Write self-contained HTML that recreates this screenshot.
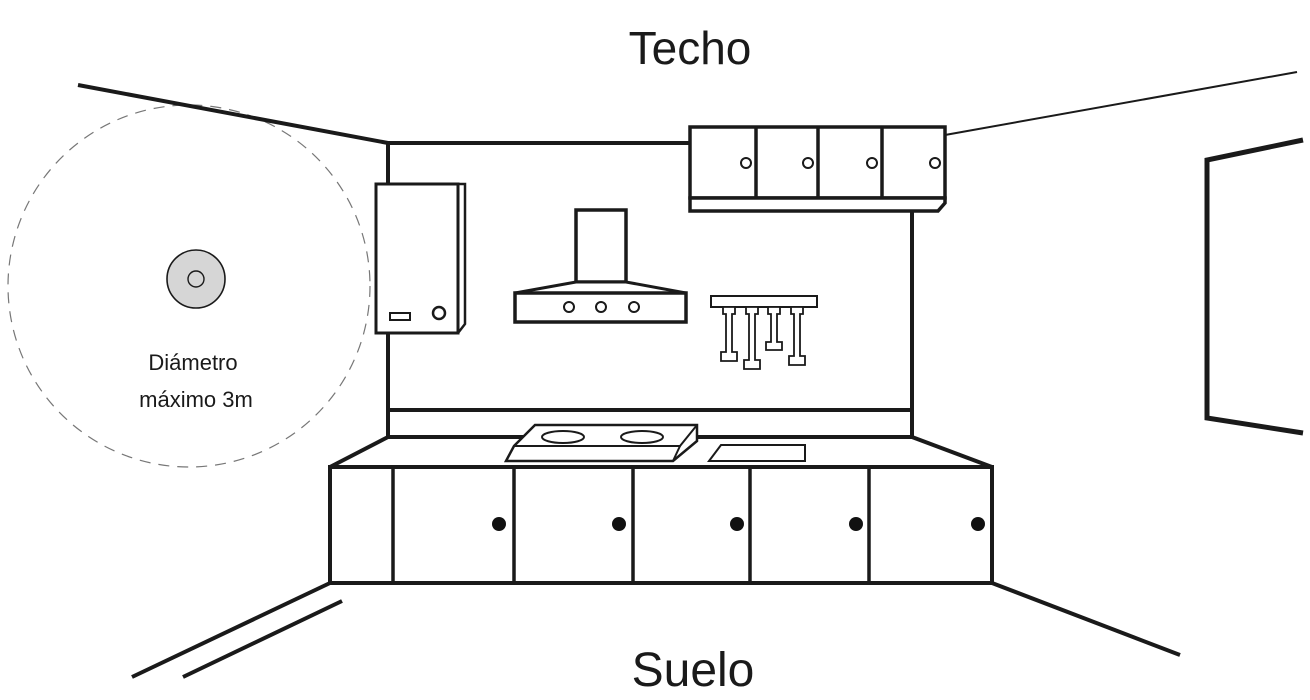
<!DOCTYPE html>
<html><head><meta charset="utf-8"><style>
html,body{margin:0;padding:0;background:#fff;}
svg{display:block;}
text{font-family:"Liberation Sans",sans-serif;fill:#1a1a1a;}
</style></head><body>
<svg width="1310" height="700" viewBox="0 0 1310 700" xmlns="http://www.w3.org/2000/svg">
<g fill="none" stroke="#1a1a1a" stroke-linejoin="miter">
<!-- detection circle -->
<circle cx="189" cy="286" r="181" stroke="#777" stroke-width="1.2" stroke-dasharray="11 8"/>
<circle cx="196" cy="279" r="29" fill="#d6d6d6" stroke-width="1.6"/>
<circle cx="196" cy="279" r="8" stroke-width="1.4"/>
<!-- ceiling lines -->
<line x1="78" y1="85" x2="388" y2="143" stroke-width="4"/>
<line x1="388" y1="143" x2="690" y2="143" stroke-width="4"/>
<line x1="945" y1="135" x2="1297" y2="72" stroke-width="2"/>
<!-- back wall -->
<line x1="388" y1="143" x2="388" y2="437" stroke-width="4"/>
<line x1="912" y1="210" x2="912" y2="437" stroke-width="4"/>
<line x1="388" y1="410" x2="912" y2="410" stroke-width="4"/>
<line x1="388" y1="437" x2="912" y2="437" stroke-width="4"/>
<line x1="388" y1="437" x2="330" y2="467" stroke-width="4"/>
<line x1="912" y1="437" x2="992" y2="467" stroke-width="4"/>
<!-- base cabinets -->
<rect x="330" y="467" width="662" height="116" stroke-width="4" fill="#fff"/>
<g stroke-width="3.5">
<line x1="393" y1="467" x2="393" y2="583"/><line x1="514" y1="467" x2="514" y2="583"/>
<line x1="633" y1="467" x2="633" y2="583"/><line x1="750" y1="467" x2="750" y2="583"/>
<line x1="869" y1="467" x2="869" y2="583"/>
</g>
<g fill="#111" stroke="none">
<circle cx="499" cy="524" r="7"/><circle cx="619" cy="524" r="7"/><circle cx="737" cy="524" r="7"/>
<circle cx="856" cy="524" r="7"/><circle cx="978" cy="524" r="7"/>
</g>
<!-- floor lines -->
<line x1="330" y1="583" x2="132" y2="677" stroke-width="4"/>
<line x1="342" y1="601" x2="183" y2="677" stroke-width="4"/>
<line x1="992" y1="583" x2="1180" y2="655" stroke-width="4"/>
<!-- window -->
<polyline points="1303,140 1207,160 1207,418 1303,433" stroke-width="5"/>
<!-- upper cabinet -->
<rect x="690" y="127" width="255" height="71" stroke-width="3.5" fill="#fff"/>
<polygon points="690,198 945,198 945,203 938,211 690,211" stroke-width="3.5" fill="#fff"/>
<g stroke-width="3.5"><line x1="756" y1="127" x2="756" y2="198"/><line x1="818" y1="127" x2="818" y2="198"/><line x1="882" y1="127" x2="882" y2="198"/></g>
<g stroke-width="2"><circle cx="746" cy="163" r="5"/><circle cx="808" cy="163" r="5"/><circle cx="872" cy="163" r="5"/><circle cx="935" cy="163" r="5"/></g>
<!-- boiler -->
<rect x="376" y="184" width="82" height="149" stroke-width="3" fill="#fff"/>
<polyline points="458,184 465,184 465,324 458,333" stroke-width="2.5"/>
<rect x="390" y="313" width="20" height="7" stroke-width="2"/>
<circle cx="439" cy="313" r="6" stroke-width="2.5"/>
<!-- hood -->
<rect x="576" y="210" width="50" height="72" stroke-width="3.5" fill="#fff"/>
<polygon points="576,282 626,282 686,293 515,293" stroke-width="3" fill="#fff"/>
<rect x="515" y="293" width="171" height="29" stroke-width="3.5" fill="#fff"/>
<g stroke-width="2"><circle cx="569" cy="307" r="5"/><circle cx="601" cy="307" r="5"/><circle cx="634" cy="307" r="5"/></g>
<!-- utensils -->
<rect x="711" y="296" width="106" height="11" stroke-width="2"/>
<g stroke-width="1.8" fill="#fff">
<path d="M723,307h12v7h-3v38h5v9h-16v-9h5v-38h-3z"/>
<path d="M746,307h12v7h-3v46h5v9h-16v-9h5v-46h-3z"/>
<path d="M768,307h12v7h-3v28h5v8h-16v-8h5v-28h-3z"/>
<path d="M791,307h12v7h-3v42h5v9h-16v-9h5v-42h-3z"/>
</g>
<!-- hob -->
<polygon points="535,425 697,425 697,441 673,461 506,461 514,446" stroke-width="2.5" fill="#fff"/>
<polyline points="514,446 680,446 697,425" stroke-width="2"/>
<line x1="680" y1="446" x2="673" y2="461" stroke-width="2"/>
<ellipse cx="563" cy="437" rx="21" ry="6" stroke-width="2"/>
<ellipse cx="642" cy="437" rx="21" ry="6" stroke-width="2"/>
<!-- sink -->
<polygon points="721,445 805,445 805,461 709,461" stroke-width="2"/>
</g>
<text x="690" y="64" font-size="46" text-anchor="middle">Techo</text>
<text x="693" y="686" font-size="48" text-anchor="middle">Suelo</text>
<text x="193" y="370" font-size="22" text-anchor="middle">Diámetro</text>
<text x="196" y="407" font-size="22" text-anchor="middle">máximo 3m</text>
</svg>
</body></html>
